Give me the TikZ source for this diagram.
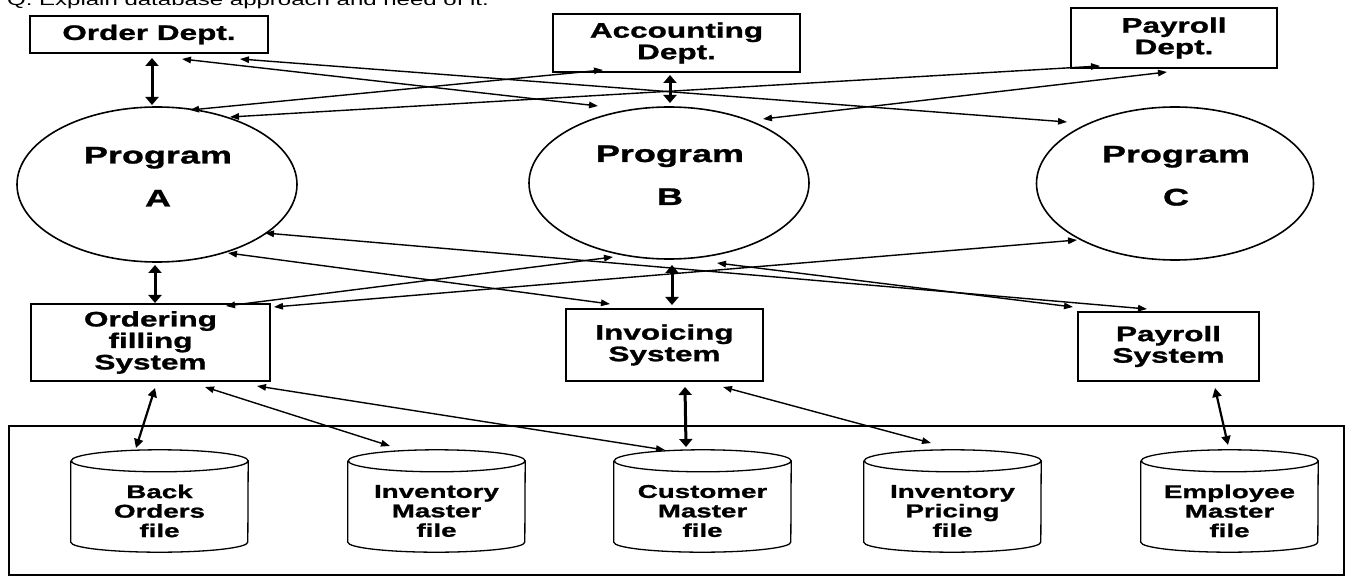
\documentclass[tikz,border=0pt]{standalone}
\usepackage{fontspec}
\setmainfont{Liberation Sans}[FakeStretch=1.5,BoldFeatures={FakeBold=1.2}]
\usetikzlibrary{arrows.meta,shapes.geometric,calc}
\begin{document}
\begin{tikzpicture}[x=1pt,y=-1pt,
  box/.style={draw,line width=2.4pt,inner sep=0pt,align=center,font=\bfseries\fontsize{21}{21.5}\selectfont},
  prog/.style={draw,ellipse,line width=1.6pt,inner sep=0pt},
  progtxt/.style={font=\bfseries\fontsize{24}{24}\selectfont,anchor=base,inner sep=0pt},
  cylbox/.style={inner sep=0pt,minimum width=177pt,minimum height=102pt},
  cyltxt/.style={align=center,font=\bfseries\fontsize{18.5}{19.5}\selectfont,inner sep=0pt},
  link/.style={line width=1.4pt,arrows={Triangle[length=9pt,width=6.5pt]-Triangle[length=9pt,width=6.5pt]}},
  mlink/.style={line width=2.2pt,arrows={Triangle[length=9pt,width=9pt]-Triangle[length=9pt,width=9pt]}},
  tlink/.style={line width=3pt,arrows={Triangle[length=8pt,width=13pt]-Triangle[length=8pt,width=13pt]}}
]
\useasboundingbox (0,0) rectangle (1349,577);
\fill[white] (0,0) rectangle (1349,577);
\node[anchor=base west,inner sep=0pt,font=\fontsize{16}{16}\selectfont] (title) at (7,6) {Q. Explain database approach and need of it.};

% departments
\node[box,minimum width=238pt,minimum height=37pt] (od) at (149,34.5) {Order Dept.};
\node[box,minimum width=247pt,minimum height=58pt] (ad) at (676.5,43) {Accounting\\Dept.};
\node[box,minimum width=206pt,minimum height=60pt] (pd) at (1174,38) {Payroll\\Dept.};

% programs
\node[prog,minimum width=280pt,minimum height=155pt] (pa) at (157,184.5) {};
\node[prog,minimum width=280pt,minimum height=152pt] (pb) at (669,183) {};
\node[prog,minimum width=277pt,minimum height=153pt] (pc) at (1175,183.5) {};
\node[progtxt] (paT1) at ($(pa)+(1,-21)$) {Program};
\node[progtxt] (paT2) at ($(pa)+(1,22)$) {A};
\node[progtxt] (pbT1) at ($(pb)+(1,-21)$) {Program};
\node[progtxt] (pbT2) at ($(pb)+(1,22)$) {B};
\node[progtxt] (pcT1) at ($(pc)+(1,-21)$) {Program};
\node[progtxt] (pcT2) at ($(pc)+(1,22)$) {C};

% systems
\node[box,minimum width=239pt,minimum height=77pt] (os) at (150.5,342.5) {Ordering\\filling\\System};
\node[box,minimum width=197pt,minimum height=72pt] (is) at (664.5,345) {Invoicing\\System};
\node[box,minimum width=181pt,minimum height=69pt] (ps) at (1168.5,346.5) {Payroll\\System};

% database frame and files
\node[draw,line width=2.4pt,inner sep=0pt,minimum width=1335pt,minimum height=149pt] (db) at (676.5,500.5) {};
\node[cylbox] (bo) at (159.5,501) {};
\node[cylbox] (im) at (436.5,501) {};
\node[cylbox] (cm) at (702.5,501) {};
\node[cylbox] (ip) at (952.5,501) {};
\node[cylbox] (em) at (1229.5,501) {};
\foreach \n in {bo,im,cm,ip,em}{
  \draw[line width=1.3pt,fill=white] ($(\n.north west)+(0,11)$) -- ($(\n.south west)+(0,-10)$)
    arc[start angle=180,end angle=360,x radius=88.5pt,y radius=10pt]
    -- ($(\n.north east)+(0,11)$)
    arc[start angle=0,end angle=180,x radius=88.5pt,y radius=11pt]
    arc[start angle=180,end angle=360,x radius=88.5pt,y radius=11pt];
}
\node[cyltxt] (boT) at ($(bo)+(0,10)$) {Back\\Orders\\file};
\node[cyltxt] (imT) at ($(im)+(0,10)$) {Inventory\\Master\\file};
\node[cyltxt] (cmT) at ($(cm)+(0,10)$) {Customer\\Master\\file};
\node[cyltxt] (ipT) at ($(ip)+(0,10)$) {Inventory\\Pricing\\file};
\node[cyltxt] (emT) at ($(em)+(0,10)$) {Employee\\Master\\file};

% top connectors
\draw[tlink] ($(od)+(3,23.5)$) -- ($(pa)+(-5,-79.5)$);
\draw[tlink] ($(ad)+(-6.5,32)$) -- ($(pb)+(1,-80)$);
\draw[link] ($(od)+(33,24.5)$) -- ($(pb)+(-71,-77)$);
\draw[link] ($(od)+(91,24.5)$) -- ($(pc)+(-108,-61.5)$);
\draw[link] ($(pa)+(33,-74.5)$) -- ($(ad)+(-73.5,27)$);
\draw[link] ($(pa)+(73,-67.5)$) -- ($(pd)+(-74,28)$);
\draw[link] ($(pb)+(94,-64)$) -- ($(pd)+(-7,34)$);

% middle connectors
\draw[tlink] ($(pa)+(-2,80.5)$) -- ($(os)+(4.5,-39.5)$);
\draw[tlink] ($(pb)+(3,82)$) -- ($(is)+(7.5,-40)$);
\draw[link] ($(pa)+(108,48.5)$) -- ($(ps)+(-21.5,-37.5)$);
\draw[link] ($(pa)+(71,68.5)$) -- ($(is)+(-54.5,-41)$);
\draw[link] ($(os)+(75.5,-36.5)$) -- ($(pb)+(-56,74)$);
\draw[link] ($(os)+(123.5,-35.5)$) -- ($(pc)+(-98,56.5)$);
\draw[link] ($(pb)+(48,80)$) -- ($(ps)+(-95.5,-39.5)$);

% bottom connectors
\draw[mlink] ($(os)+(4.5,45.5)$) -- ($(bo)+(-23.5,-53)$);
\draw[link] ($(os)+(54.5,44.5)$) -- ($(im)+(-46.5,-55)$);
\draw[link] ($(os)+(106.5,43.5)$) -- ($(cm)+(-37.5,-51)$);
\draw[tlink] ($(is)+(20.5,42)$) -- ($(cm)+(-16.5,-54)$);
\draw[link] ($(is)+(58.5,42)$) -- ($(ip)+(-21.5,-58)$);
\draw[mlink] ($(ps)+(46.5,41.5)$) -- ($(em)+(-1.5,-56)$);
\end{tikzpicture}
\end{document}
